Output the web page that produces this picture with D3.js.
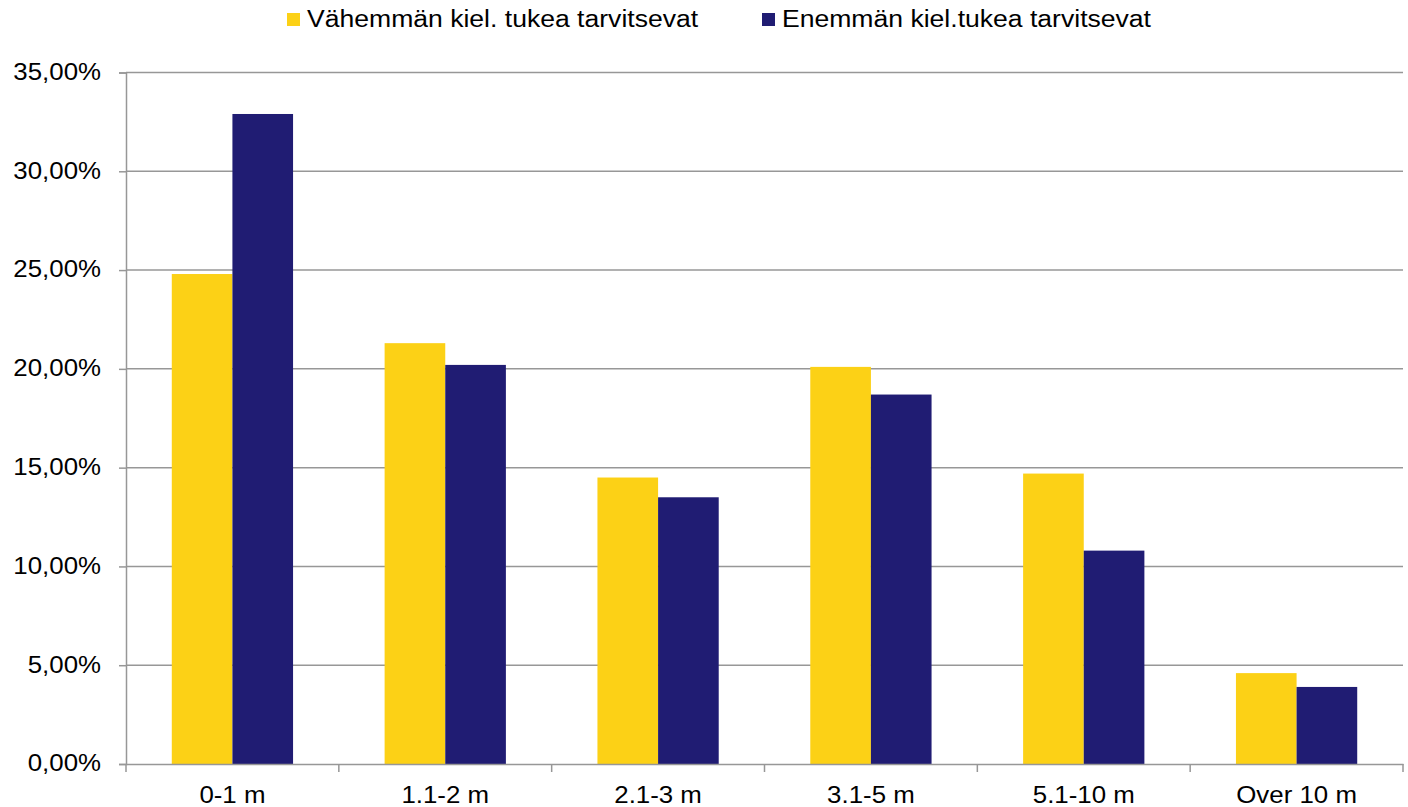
<!DOCTYPE html>
<html><head><meta charset="utf-8">
<script src="https://cdn.jsdelivr.net/npm/d3@7"></script>
<style>
html,body{margin:0;padding:0;background:#fff;}
text{font-family:"Liberation Sans",Arial,sans-serif;fill:#000;}
</style></head>
<body><svg id="c" width="1408" height="807"></svg>
<script>
const categories = ["0-1 m","1.1-2 m","2.1-3 m","3.1-5 m","5.1-10 m","Over 10 m"];
const seriesNames = ["Vähemmän kiel. tukea tarvitsevat","Enemmän kiel.tukea tarvitsevat"];
const lessSupport = [24.8, 21.3, 14.5, 20.1, 14.7, 4.6];
const moreSupport = [32.9, 20.2, 13.5, 18.7, 10.8, 3.9];
const yTicks = [0,5,10,15,20,25,30,35];
const colors = ["#FCD116","#201C73"];

const svg = d3.select("#c");
const mLeft = 126, mRight = 1403, mTop = 72.5, mBottom = 764;
const grid = "#979797";
const fs = 23.5;

const x = d3.scaleBand().domain(categories).range([mLeft,mRight]).paddingInner(0).paddingOuter(0);
const x1 = d3.scaleBand().domain([0,1]).range([0, x.bandwidth()]).paddingInner(0).paddingOuter(0.755);
const y = d3.scaleLinear().domain([0,35]).range([mBottom, mTop]);

function stretchText(k){
  return sel => sel.each(function(){
    const len = this.getComputedTextLength();
    d3.select(this).attr("textLength", len*k).attr("lengthAdjust","spacingAndGlyphs");
  });
}

// gridlines
svg.append("g").selectAll("line").data(yTicks.filter(d=>d>0)).join("line")
  .attr("x1",mLeft).attr("x2",mRight).attr("y1",d=>y(d)).attr("y2",d=>y(d))
  .attr("stroke",grid).attr("stroke-width",1.5);

// bars
const series = [lessSupport, moreSupport];
series.forEach((vals,si)=>{
  svg.append("g").selectAll("rect").data(vals).join("rect")
    .attr("x",(d,i)=>x(categories[i])+x1(si))
    .attr("width",x1.bandwidth())
    .attr("y",d=>y(d))
    .attr("height",d=>y(0)-y(d))
    .attr("fill",colors[si]);
});

// y axis
const yAxis = svg.append("g").attr("transform",`translate(${mLeft},0)`)
  .call(d3.axisLeft(y).tickValues(yTicks).tickSize(7).tickPadding(18)
    .tickFormat(d=>d3.format(".2f")(d).replace(".",",")+"%"));
yAxis.select(".domain").attr("stroke",grid).attr("stroke-width",1.5);
yAxis.selectAll(".tick line").attr("stroke",grid).attr("stroke-width",1.5);
yAxis.selectAll(".tick text").attr("font-size",fs).attr("fill","#000").attr("dy","0.29em")
  .attr("font-family","Liberation Sans, Arial, sans-serif").call(stretchText(1.1));

// x axis
const xAxis = svg.append("g").attr("transform",`translate(0,${mBottom})`)
  .call(d3.axisBottom(x).tickSize(0).tickPadding(22));
xAxis.select(".domain").attr("stroke",grid).attr("stroke-width",1.5);
xAxis.selectAll(".tick text").attr("font-size",fs).attr("fill","#000")
  .attr("font-family","Liberation Sans, Arial, sans-serif").call(stretchText(1.1));
// boundary ticks
const bounds = categories.map(c=>x(c)).concat([mRight]);
svg.append("g").selectAll("line").data(bounds).join("line")
  .attr("x1",d=>d).attr("x2",d=>d).attr("y1",mBottom).attr("y2",mBottom+8)
  .attr("stroke",grid).attr("stroke-width",1.5);

// legend
const legendX = [287, 762];
const lg = svg.append("g");
seriesNames.forEach((n,i)=>{
  lg.append("rect").attr("x",legendX[i]).attr("y",13).attr("width",13).attr("height",13).attr("fill",colors[i]);
  lg.append("text").attr("x",legendX[i]+20).attr("y",27).attr("font-size",fs).text(n).call(stretchText(1.13));
});
</script></body></html>
